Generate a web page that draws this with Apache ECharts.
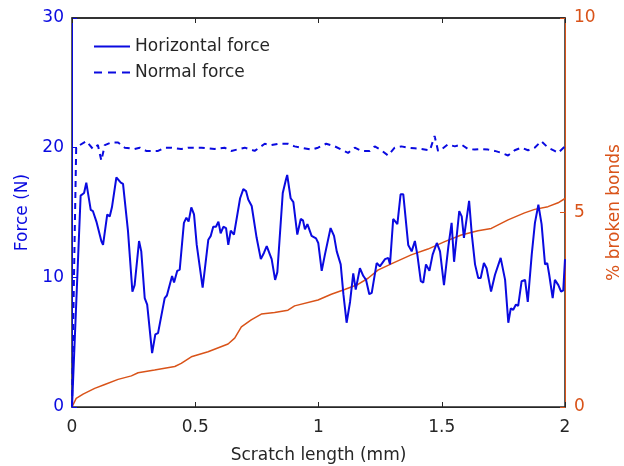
<!DOCTYPE html>
<html>
<head>
<meta charset="utf-8">
<script src="https://cdn.jsdelivr.net/npm/echarts@6/dist/echarts.min.js"></script>
<style>
html,body{margin:0;padding:0;background:#fff;}
#chart{width:624px;height:466px;}
</style>
</head>
<body>
<div id="chart"></div>
<script>
// Scratch length (mm) and horizontal force (N)
var hX = [0,0.035,0.049,0.058,0.065,0.076,0.085,0.099,0.119,0.126,0.143,0.153,0.162,0.180,0.187,0.198,0.207,0.227,0.245,0.254,0.272,0.281,0.295,0.305,0.325,0.338,0.349,0.376,0.385,0.406,0.414,0.427,0.437,0.454,0.464,0.473,0.484,0.495,0.506,0.512,0.530,0.535,0.553,0.563,0.573,0.584,0.594,0.603,0.614,0.625,0.634,0.644,0.657,0.682,0.695,0.706,0.715,0.729,0.749,0.766,0.779,0.790,0.803,0.810,0.824,0.833,0.855,0.868,0.873,0.887,0.898,0.914,0.928,0.937,0.945,0.955,0.972,0.990,0.999,1.013,1.026,1.049,1.063,1.074,1.090,1.101,1.114,1.128,1.141,1.151,1.168,1.182,1.193,1.206,1.216,1.236,1.249,1.270,1.283,1.290,1.303,1.320,1.333,1.344,1.364,1.378,1.391,1.401,1.415,1.425,1.436,1.450,1.463,1.480,1.493,1.509,1.527,1.540,1.550,1.558,1.571,1.581,1.590,1.598,1.611,1.622,1.635,1.648,1.658,1.671,1.682,1.700,1.716,1.739,1.757,1.770,1.780,1.790,1.801,1.810,1.824,1.838,1.849,1.865,1.878,1.892,1.905,1.919,1.928,1.936,1.950,1.959,1.973,1.984,1.993,2.000];
var hForce = [0,16.3,16.5,17.3,17.3,15.2,15.1,14.3,12.8,12.5,14.85,14.7,15.4,17.7,17.8,17.3,17.2,13.6,8.9,9.4,12.8,12.0,8.4,7.9,4.15,5.6,5.7,8.4,8.6,10.1,9.6,10.5,10.6,14.2,14.6,14.3,15.4,14.85,12.5,12.5,9.2,9.05,12.9,13.2,13.9,13.9,14.3,13.4,13.9,13.8,12.5,13.6,13.3,16.1,16.8,16.65,16.0,15.5,13.05,11.4,11.9,12.4,11.75,11.4,9.8,10.4,16.5,17.55,17.9,16.1,15.8,13.3,14.5,14.4,13.7,14.1,13.2,13.0,12.65,10.5,11.75,13.8,13.2,12.0,11.0,8.7,6.5,8.1,10.3,9.05,10.7,10.1,9.8,8.7,8.8,11.1,10.85,11.4,11.5,11.0,14.5,14.1,16.4,16.4,12.5,12.0,12.8,11.75,9.7,9.6,11.0,10.5,11.75,12.65,12.0,9.4,12.4,14.2,11.2,11.1,15.1,14.7,13.05,13.2,15.9,13.3,11.0,9.95,9.95,11.1,10.7,8.9,10.2,11.5,9.8,6.5,7.6,7.5,7.9,7.8,9.7,9.8,8.1,11.75,14.2,15.6,14.1,11.0,11.1,10.2,8.4,9.8,9.4,8.9,9.0,11.4];

// Normal force (N)
var nX = [0,0.008,0.017,0.032,0.058,0.085,0.105,0.119,0.133,0.159,0.187,0.214,0.254,0.275,0.301,0.349,0.376,0.403,0.443,0.471,0.525,0.579,0.619,0.646,0.701,0.741,0.782,0.809,0.836,0.876,0.903,0.930,0.971,0.998,1.031,1.066,1.093,1.120,1.147,1.174,1.208,1.228,1.255,1.282,1.309,1.336,1.363,1.390,1.417,1.452,1.471,1.485,1.498,1.525,1.553,1.579,1.606,1.634,1.660,1.688,1.715,1.742,1.769,1.796,1.823,1.850,1.877,1.904,1.931,1.958,1.972,2.000];
var nForce = [0,10,20.0,20.2,20.5,19.9,20.2,19.0,20.2,20.4,20.4,20.0,19.9,20.0,19.75,19.75,20.0,20.0,19.9,20.0,20.0,19.9,20.0,19.75,20.0,19.75,20.3,20.2,20.3,20.3,20.1,20.0,19.85,20.0,20.3,20.1,19.85,19.6,20.0,19.75,19.75,20.1,19.8,19.4,20.0,20.1,20.0,19.95,19.9,19.8,20.9,19.75,19.85,20.25,20.1,20.25,19.9,19.85,19.9,19.85,19.75,19.6,19.4,19.8,20.0,19.8,20.0,20.5,20.0,19.75,19.6,20.1];

// % broken bonds
var bX = [0,0.017,0.045,0.092,0.133,0.187,0.241,0.268,0.335,0.417,0.443,0.484,0.552,0.633,0.660,0.687,0.727,0.768,0.822,0.876,0.903,0.998,1.052,1.106,1.160,1.201,1.241,1.295,1.376,1.444,1.512,1.579,1.647,1.701,1.769,1.836,1.877,1.931,1.972,2.000];
var bPct = [0,0.22,0.33,0.48,0.58,0.71,0.80,0.88,0.95,1.04,1.12,1.29,1.42,1.62,1.77,2.06,2.24,2.39,2.43,2.49,2.60,2.75,2.90,3.02,3.15,3.31,3.52,3.68,3.91,4.06,4.25,4.42,4.53,4.59,4.81,4.99,5.08,5.15,5.25,5.36];

var xTicks = ['0','0.5','1','1.5','2'];
var seriesNames = ['Horizontal force','Normal force','% broken bonds'];

function zip(a,b){ return a.map(function(v,i){ return [v,b[i]]; }); }

var BLUE = '#0a0ae0';
var ORANGE = '#D95319';
var DARK = '#262626';
var FONT = 'DejaVu Sans';

var chart = echarts.init(document.getElementById('chart'), null, {renderer:'canvas'});
chart.setOption({
  animation:false,
  backgroundColor:'#fff',
  textStyle:{fontFamily:FONT},
  grid:{left:72,right:59,top:18,bottom:59,containLabel:false,outerBoundsMode:'none',
    show:true,borderColor:DARK,borderWidth:1.5,backgroundColor:'transparent'},
  legend:{
    data:[
      {name:seriesNames[0], icon:'path://M0,0h36v2h-36z'},
      {name:seriesNames[1], icon:'path://M0,0h8v2h-8zM14,0h8v2h-8zM28,0h8v2h-8z'}
    ],
    orient:'vertical', left:89, top:33,
    itemWidth:36, itemHeight:2, itemGap:9, symbolKeepAspect:false,
    textStyle:{fontFamily:FONT,fontSize:17,color:DARK}
  },
  xAxis:[{
    type:'value', position:'bottom', min:0, max:2, interval:0.5,
    axisLine:{onZero:false,lineStyle:{color:DARK,width:1}},
    axisTick:{inside:true,length:5,lineStyle:{color:DARK}},
    splitLine:{show:false},
    axisLabel:{fontFamily:FONT,fontSize:17,color:DARK,margin:12,
      formatter:function(v){ return xTicks[Math.round(v/0.5)]; }},
    name:'Scratch length (mm)', nameLocation:'middle', nameGap:40,
    nameTextStyle:{fontFamily:FONT,fontSize:17,color:DARK}
  },{
    type:'value', position:'top', show:true, min:0, max:2, interval:0.5,
    axisLine:{show:true,onZero:false,lineStyle:{color:DARK,width:1.5}},
    axisTick:{show:true,inside:true,length:5,lineStyle:{color:DARK}},
    splitLine:{show:false}, axisLabel:{show:false}
  }],
  yAxis:[{
    type:'value', position:'left', min:0, max:30, interval:10,
    axisLine:{show:true,onZero:false,lineStyle:{color:BLUE,width:1}},
    axisTick:{show:true,inside:true,length:5,lineStyle:{color:BLUE}},
    splitLine:{show:false},
    axisLabel:{fontFamily:FONT,fontSize:17,color:BLUE,margin:8},
    name:'Force (N)', nameLocation:'middle', nameGap:34, nameRotate:90,
    nameTextStyle:{fontFamily:FONT,fontSize:17,color:BLUE}
  },{
    type:'value', position:'right', min:0, max:10, interval:5,
    axisLine:{show:true,onZero:false,lineStyle:{color:ORANGE,width:1}},
    axisTick:{show:true,inside:true,length:5,lineStyle:{color:ORANGE}},
    splitLine:{show:false},
    axisLabel:{fontFamily:FONT,fontSize:17,color:ORANGE,margin:9},
    name:'% broken bonds', nameLocation:'middle', nameGap:30, nameRotate:90,
    nameTextStyle:{fontFamily:FONT,fontSize:17,color:ORANGE}
  }],
  series:[{
    name:seriesNames[0], type:'line', xAxisIndex:0, yAxisIndex:0,
    data:zip(hX,hForce), showSymbol:false, symbol:'none',
    lineStyle:{color:BLUE,width:2}, itemStyle:{color:BLUE}, z:3
  },{
    name:seriesNames[1], type:'line', xAxisIndex:0, yAxisIndex:0,
    data:zip(nX,nForce), showSymbol:false, symbol:'none',
    lineStyle:{color:BLUE,width:2,type:[6,5]}, itemStyle:{color:BLUE}, z:3
  },{
    name:seriesNames[2], type:'line', xAxisIndex:0, yAxisIndex:1,
    data:zip(bX,bPct), showSymbol:false, symbol:'none',
    lineStyle:{color:ORANGE,width:1.5}, itemStyle:{color:ORANGE}, z:2
  }]
});
</script>
</body>
</html>
